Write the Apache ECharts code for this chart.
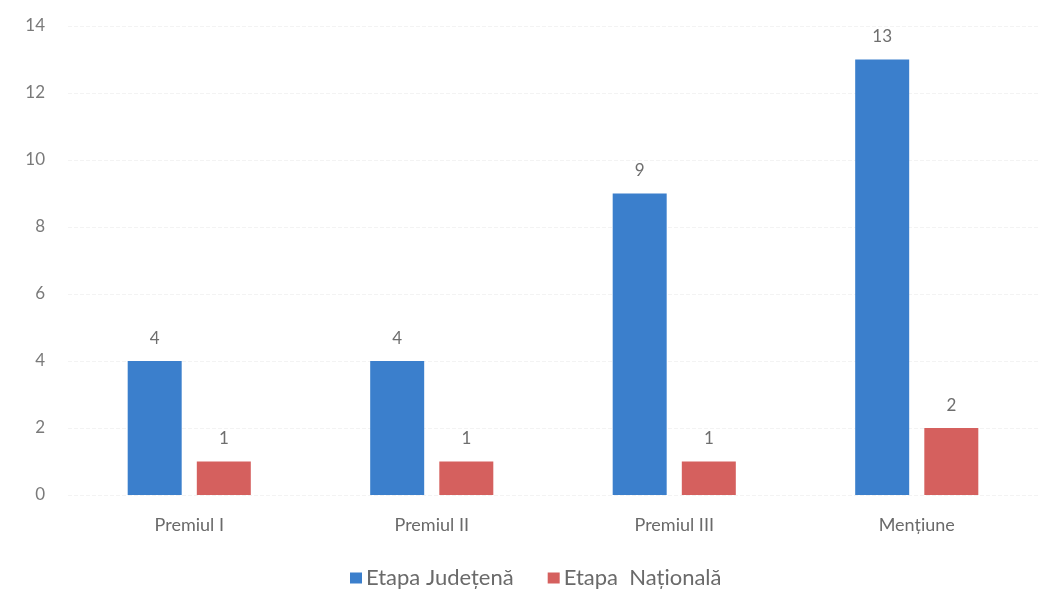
<!DOCTYPE html>
<html><head><meta charset="utf-8">
<script src="https://cdn.jsdelivr.net/npm/echarts@6/dist/echarts.min.js"></script>
<style>html,body{margin:0;padding:0;background:#fff}#c{width:1049px;height:605px}</style>
</head><body><div id="c"></div>
<script>
const categories = ['Premiul I', 'Premiul II', 'Premiul III', 'Mențiune'];
const judeteana = [4, 4, 9, 13];
const nationala = [1, 1, 1, 2];
const seriesNames = ['Etapa Județenă', 'Etapa  Națională'];
const yTicks = { min: 0, max: 14, interval: 2 };

const font = 'Lato';
const chart = echarts.init(document.getElementById('c'));
const labelStyle = { show: true, position: 'top', distance: 14, color: '#6e6e6e', fontSize: 17, fontFamily: font };
chart.setOption({
  animation: false,
  grid: { left: 68, right: 11, top: 26, bottom: 110 },
  legend: {
    data: seriesNames, top: 562, left: 345,
    icon: 'rect', itemWidth: 12, itemHeight: 11, itemGap: 34,
    textStyle: { color: '#6a6a6a', fontSize: 22, fontFamily: font, padding: [0, 0, 0, -1] }
  },
  xAxis: {
    type: 'category', data: categories,
    axisLine: { show: false }, axisTick: { show: false },
    axisLabel: { color: '#6a6a6a', fontSize: 18, fontFamily: font, margin: 21 }
  },
  yAxis: {
    type: 'value', min: yTicks.min, max: yTicks.max, interval: yTicks.interval,
    axisLine: { show: false }, axisTick: { show: false },
    splitLine: { lineStyle: { color: '#f3f3f3', type: 'dashed' } },
    axisLabel: { color: '#7a7a7a', fontSize: 17, fontFamily: font, margin: 23 }
  },
  series: [
    { name: seriesNames[0], type: 'bar', data: judeteana, barWidth: 54, barGap: '28%',
      itemStyle: { color: '#3b7fcc' }, label: labelStyle },
    { name: seriesNames[1], type: 'bar', data: nationala, barWidth: 54,
      itemStyle: { color: '#d5605e' }, label: labelStyle }
  ]
});
</script></body></html>
